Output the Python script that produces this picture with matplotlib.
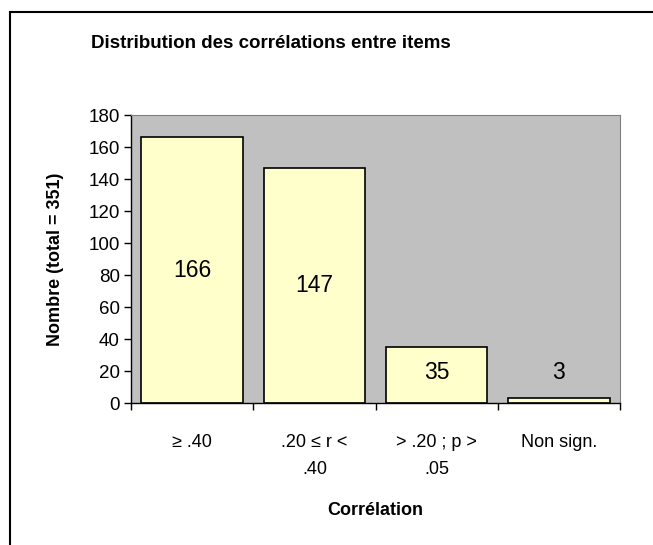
import matplotlib.pyplot as plt
from matplotlib.patches import Rectangle

categories = ['≥ .40', '.20 ≤ r <\n.40', '> .20 ; p >\n.05', 'Non sign.']
counts = [166, 147, 35, 3]

plt.rcParams['font.family'] = ['Liberation Sans', 'DejaVu Sans']

fig = plt.figure(figsize=(6.53, 5.45), dpi=100)
ax = fig.add_axes([131/653, 1 - 403/545, (620 - 131)/653, (403 - 115)/545])

# cadre du graphique
fig.patches.append(Rectangle((10/653, -0.1), 1.2, 1 - 12/545 + 0.1, transform=fig.transFigure,
                             fill=False, edgecolor='black', linewidth=1.5))

x = range(len(categories))
ax.bar(x, counts, width=0.83, color='#FFFFCC', edgecolor='black', linewidth=1.2, zorder=2)
for i, v in enumerate(counts):
    ax.text(i, max(v / 2, 19), str(v), ha='center', va='center', fontsize=16.5, zorder=3)

ax.set_facecolor('#C0C0C0')
ax.set_xlim(-0.5, 3.5)
ax.set_ylim(0, 180)
ax.set_yticks(range(0, 181, 20))
ax.tick_params(axis='y', labelsize=13.5, length=5, direction='out', width=1, pad=3)
ax.set_xticks(list(x))
ax.set_xticklabels(categories, fontsize=13, linespacing=1.8)
ax.set_xticks([-0.5, 0.5, 1.5, 2.5, 3.5], minor=True)
ax.tick_params(axis='x', which='major', length=0, pad=22)
ax.tick_params(axis='x', which='minor', length=5, direction='out', width=1)
for s in ['top', 'right']:
    ax.spines[s].set_color('#808080')
ax.spines['left'].set_linewidth(1)
ax.spines['bottom'].set_linewidth(1)

ax.set_ylabel('Nombre (total = 351)', fontsize=13, fontweight='bold', labelpad=18)
ax.set_xlabel('Corrélation', fontsize=13, fontweight='bold', labelpad=17.5)
fig.text(271/653, 1 - 43/545, 'Distribution des corrélations entre items',
         ha='center', va='center', fontsize=13.5, fontweight='bold')

fig.savefig('out.png', dpi=100)
